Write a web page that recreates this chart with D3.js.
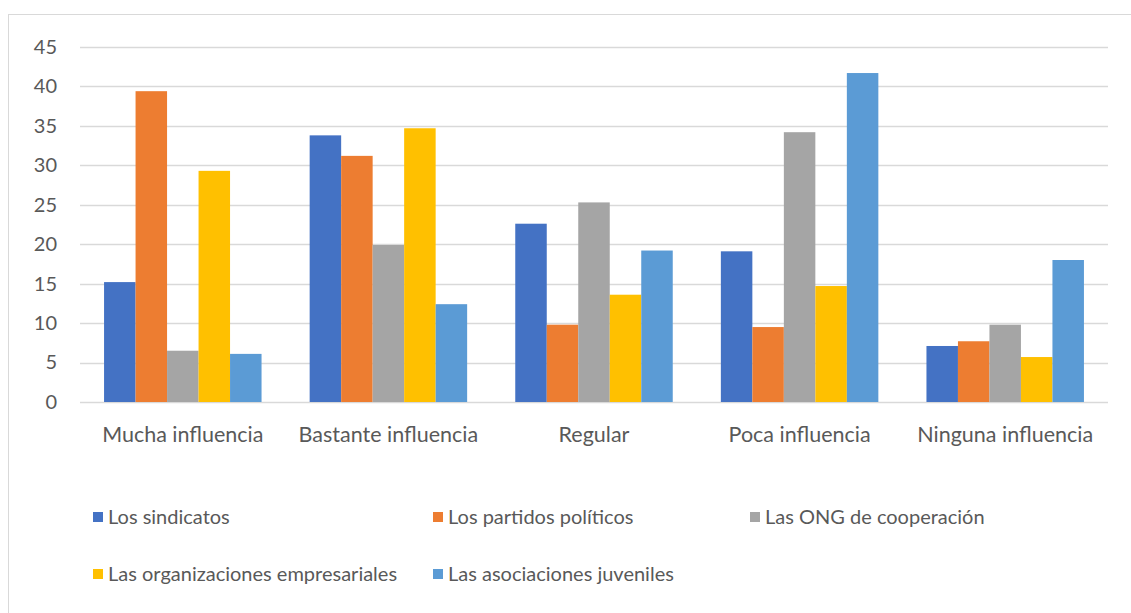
<!DOCTYPE html>
<html>
<head>
<meta charset="utf-8">
<script src="https://cdn.jsdelivr.net/npm/d3@7"></script>
<style>
  html, body { margin: 0; padding: 0; background: #fff; }
  svg { display: block; font-family: Lato, "Open Sans", sans-serif; }
</style>
</head>
<body>
<svg id="chart" width="1131" height="613"></svg>
<script>
// Influence ratings by type of organisation (percent)
const categories = ["Mucha influencia", "Bastante influencia", "Regular", "Poca influencia", "Ninguna influencia"];
const seriesNames = ["Los sindicatos", "Los partidos políticos", "Las ONG de cooperación", "Las organizaciones empresariales", "Las asociaciones juveniles"];
const sindicatos   = [15.2, 33.8, 22.6, 19.1, 7.1];
const partidos     = [39.4, 31.2, 9.8, 9.5, 7.7];
const ong          = [6.5, 19.9, 25.3, 34.2, 9.8];
const empresariales = [29.3, 34.7, 13.6, 14.7, 5.7];
const juveniles    = [6.1, 12.4, 19.2, 41.7, 18.0];
const yTicks = [0, 5, 10, 15, 20, 25, 30, 35, 40, 45];
const colors = ["#4472C4", "#ED7D31", "#A5A5A5", "#FFC000", "#5B9BD5"];

const seriesValues = [sindicatos, partidos, ong, empresariales, juveniles];

const svg = d3.select("#chart");

// chart frame
svg.append("rect")
  .attr("x", 8.5).attr("y", 14.5)
  .attr("width", 1140).attr("height", 620)
  .attr("fill", "#fff").attr("stroke", "#d9d9d9").attr("stroke-width", 1);

const plot = { left: 80, right: 1108, top: 47, bottom: 402 };

const y = d3.scaleLinear().domain([0, 45]).range([plot.bottom, plot.top]);
const x0 = d3.scaleBand().domain(categories).range([plot.left, plot.right]).paddingInner(0).paddingOuter(0);
const innerPad = 0.234; // fraction of group width left as gap
const x1 = d3.scaleBand().domain(d3.range(seriesNames.length))
  .range([x0.bandwidth() * innerPad / 2, x0.bandwidth() * (1 - innerPad / 2)]);

// gridlines
svg.append("g")
  .selectAll("line")
  .data(yTicks)
  .join("line")
  .attr("x1", plot.left).attr("x2", plot.right)
  .attr("y1", d => Math.round(y(d)) + 0.5).attr("y2", d => Math.round(y(d)) + 0.5)
  .attr("stroke", "#d9d9d9").attr("stroke-width", 1.3);

// y axis labels
const yAxis = d3.axisLeft(y).tickValues(yTicks).tickSize(0).tickPadding(0);
const ga = svg.append("g").attr("transform", `translate(57,0)`).call(yAxis);
ga.select(".domain").remove();
ga.selectAll("text")
  .attr("fill", "#595959").attr("font-size", 20)
  .attr("font-family", "Lato, 'Open Sans', sans-serif");

// bars
const groups = svg.append("g")
  .selectAll("g")
  .data(categories)
  .join("g")
  .attr("transform", d => `translate(${x0(d)},0)`);

groups.selectAll("rect")
  .data((c, ci) => seriesValues.map((vals, si) => ({ si, v: vals[ci] })))
  .join("rect")
  .attr("x", d => x1(d.si))
  .attr("width", x1.bandwidth())
  .attr("y", d => y(d.v))
  .attr("height", d => y(0) - y(d.v))
  .attr("fill", d => colors[d.si]);

// category labels
const xAxis = d3.axisBottom(x0).tickSize(0).tickPadding(0);
const gx = svg.append("g").attr("transform", `translate(0,${plot.bottom + 25})`).call(xAxis);
gx.select(".domain").remove();
gx.selectAll("text")
  .attr("fill", "#595959").attr("font-size", 21.5)
  .attr("font-family", "Lato, 'Open Sans', sans-serif");

// legend
const legendPos = [
  { x: 93, y: 517 }, { x: 433, y: 517 }, { x: 750, y: 517 },
  { x: 93, y: 574 }, { x: 433, y: 574 }
];
const leg = svg.append("g")
  .selectAll("g")
  .data(seriesNames)
  .join("g")
  .attr("transform", (d, i) => `translate(${legendPos[i].x},${legendPos[i].y})`);
leg.append("rect")
  .attr("x", 0).attr("y", -5).attr("width", 10).attr("height", 10)
  .attr("fill", (d, i) => colors[i]);
leg.append("text")
  .attr("x", 15).attr("y", 0).attr("dy", "0.35em")
  .attr("fill", "#595959").attr("font-size", 20)
  .text(d => d);
</script>
</body>
</html>
